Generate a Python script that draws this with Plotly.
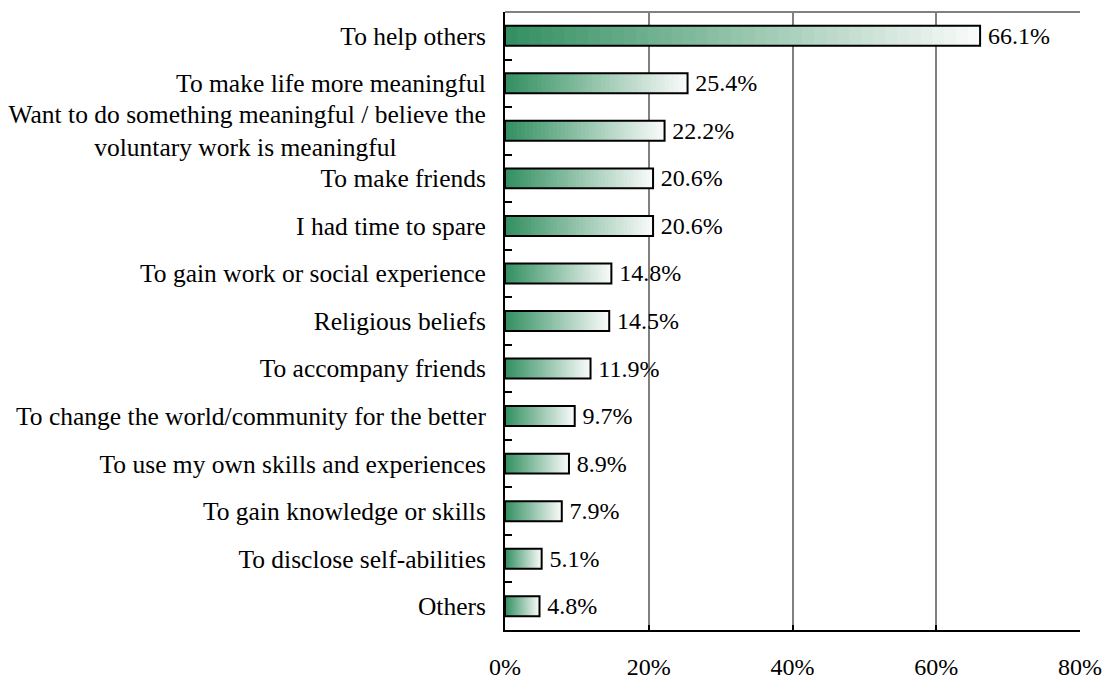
import plotly.graph_objects as go

# Reasons for volunteering (share of respondents, %)
categories = [
    "To help others",
    "To make life more meaningful",
    "Want to do something meaningful / believe the<br>voluntary work is meaningful" + "\u00a0" * 14,
    "To make friends",
    "I had time to spare",
    "To gain work or social experience",
    "Religious beliefs",
    "To accompany friends",
    "To change the world/community for the better",
    "To use my own skills and experiences",
    "To gain knowledge or skills",
    "To disclose self-abilities",
    "Others",
]
values = [66.1, 25.4, 22.2, 20.6, 20.6, 14.8, 14.5, 11.9, 9.7, 8.9, 7.9, 5.1, 4.8]
x_ticks = [0, 20, 40, 60, 80]
x_tick_labels = ["0%", "20%", "40%", "60%", "80%"]

FONT = "Liberation Serif"
DARK = (52, 144, 98)
LIGHT = (248, 250, 249)
STEPS = 40

fig = go.Figure()

# Green-to-white fill: nested bars, longest (lightest) first, each shorter
# one darker, so every bar fades from dark green at 0 to white at its end.
for k in range(STEPS, 0, -1):
    t = (k - 1) / (STEPS - 1)
    r, g, b = (round(DARK[j] + (LIGHT[j] - DARK[j]) * t) for j in range(3))
    fig.add_trace(go.Bar(
        y=categories,
        x=[v * k / STEPS for v in values],
        base=0,
        orientation="h",
        marker=dict(color=f"rgb({r},{g},{b})", line=dict(width=0)),
        width=0.42,
        hoverinfo="skip",
        showlegend=False,
    ))

# Black outline and value labels
fig.add_trace(go.Bar(
    y=categories,
    x=values,
    base=0,
    orientation="h",
    marker=dict(color="rgba(0,0,0,0)", line=dict(color="black", width=2)),
    width=0.42,
    text=[f"\u2009{v:.1f}%" for v in values],
    textposition="outside",
    constraintext="none",
    textfont=dict(family=FONT, size=24, color="black"),
    cliponaxis=False,
    showlegend=False,
))

fig.update_layout(
    width=1112,
    height=679,
    barmode="overlay",
    plot_bgcolor="white",
    paper_bgcolor="white",
    margin=dict(l=505, r=32, t=12, b=49),
    font=dict(family=FONT, size=24, color="black"),
    xaxis=dict(
        range=[0, 80],
        tickvals=x_ticks,
        ticktext=x_tick_labels,
        showgrid=True,
        gridcolor="#808080",
        gridwidth=2,
        zeroline=False,
        showline=True,
        linecolor="black",
        linewidth=2,
        ticks="inside",
        ticklen=5,
        tickwidth=2,
        tickcolor="black",
        ticklabelstandoff=14,
        automargin=False,
        tickfont=dict(family=FONT, size=24),
    ),
    yaxis=dict(
        autorange="reversed",
        showgrid=False,
        showline=True,
        linecolor="black",
        linewidth=2,
        ticks="inside",
        tickson="boundaries",
        ticklen=7,
        tickwidth=2,
        tickcolor="black",
        ticklabelstandoff=12,
        automargin=False,
        tickfont=dict(family=FONT, size=25.5),
    ),
    shapes=[dict(type="line", xref="paper", yref="paper", x0=0, x1=1, y0=1, y1=1,
                 line=dict(color="#808080", width=2), layer="below")],
)

fig.write_html("out.html")
